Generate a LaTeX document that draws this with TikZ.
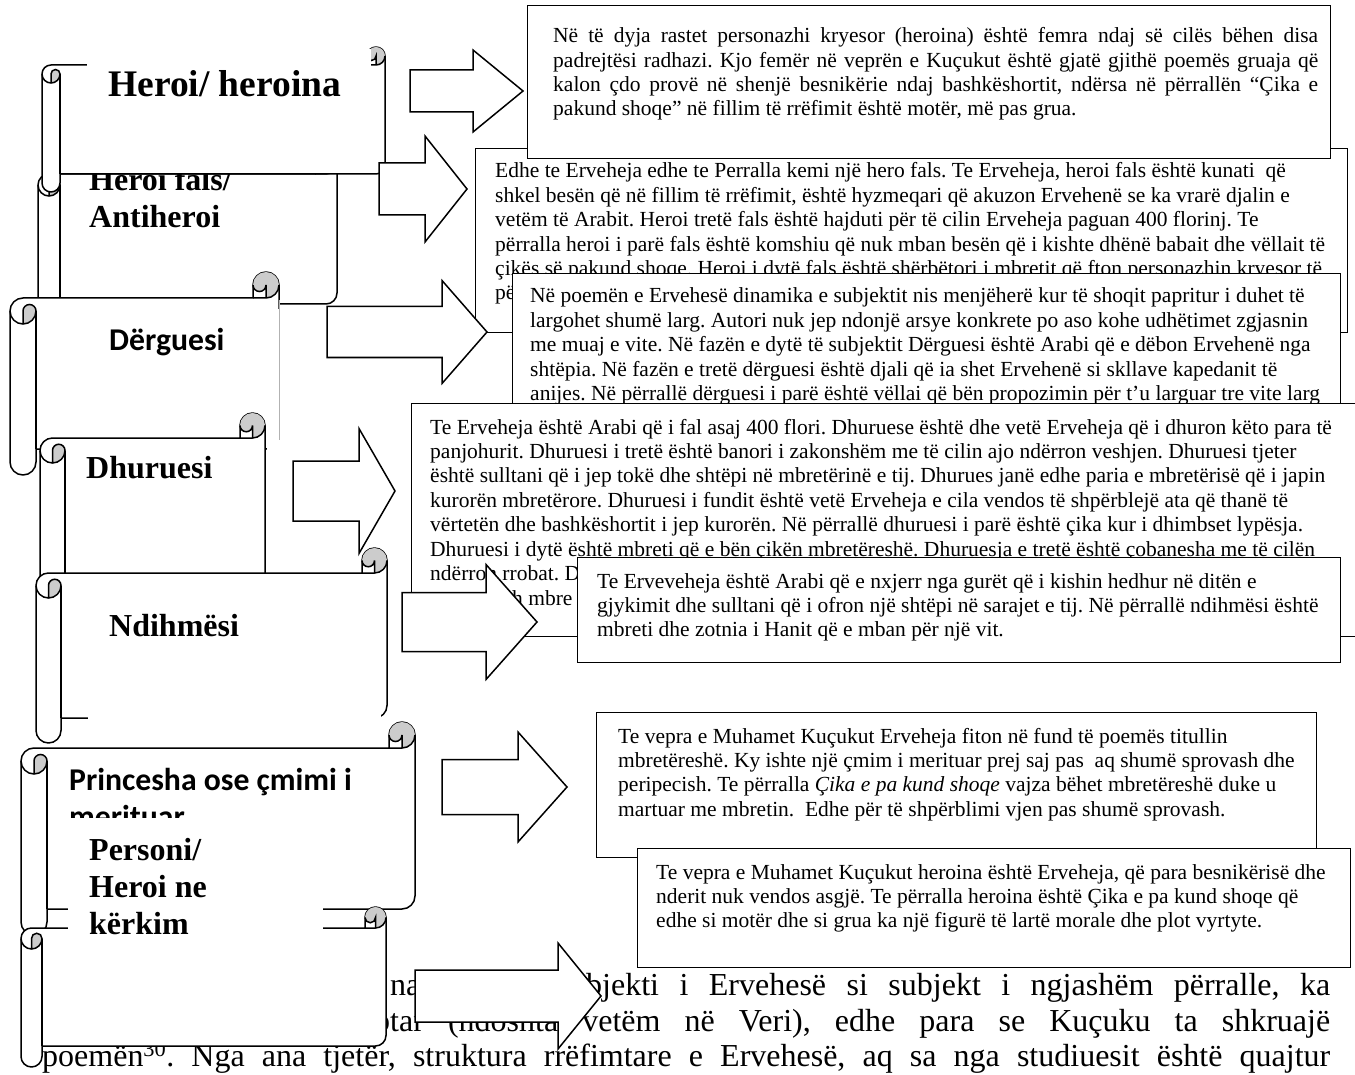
\documentclass[tikz,border=0pt]{standalone}
\usepackage{fontspec}
\setmainfont{Liberation Serif}
\newfontfamily\calfont{Carlito}
\frenchspacing
\newcommand{\bxfont}{\fontsize{21.5}{24.4}\selectfont\frenchspacing}
\newcommand{\hdfont}{\fontsize{32}{37}\selectfont\bfseries}
\newcommand{\cahd}{\calfont\fontsize{31.7}{37}\selectfont\bfseries}
\newcommand{\pfont}{\fontsize{32}{37}\selectfont\frenchspacing}
\tikzset{
 scrl/.style={fill=white, draw=black, line width=1.5pt, line join=round},
 curl/.style={fill=black!20},
 scrline/.style={draw=black, line width=1.5pt},
 tbox/.style={draw=black, fill=white, line width=1.4pt, inner sep=0pt, anchor=north west},
 txt/.style={anchor=base west, inner sep=0pt},
 arr/.style={draw=black, fill=white, line width=1.5pt, line join=miter},
 wipe/.style={fill=white, draw=none}
}
\newcommand{\drawscroll}[5]{%
  \pgfmathsetmacro\sxL{#1}%
  \pgfmathsetmacro\sxR{#3}%
  \pgfmathsetmacro\sCt{#5/2}%
  \pgfmathsetmacro\sCq{#5/4}%
  \pgfmathsetmacro\sYa{#2+#5}%
  \pgfmathsetmacro\sYb{#2+#5/2}%
  \pgfmathsetmacro\sYc{#2+1.5*#5}%
  \pgfmathsetmacro\sYd{#2+2*#5}%
  \pgfmathsetmacro\sYf{#4-#5}%
  \pgfmathsetmacro\sYg{#4-#5/2}%
  \pgfmathsetmacro\sYe{#4-1.5*#5}%
  \pgfmathsetmacro\sXc{#3-#5}%
  \pgfmathsetmacro\sXd{#3-#5/2}%
  \pgfmathsetmacro\sXa{#1+#5/2}%
  \pgfmathsetmacro\sXb{#1+#5}%
  \path[scrl] (\sxL,\sYc) arc[start angle=180,delta angle=90,radius=\sCt] -- (\sXc,\sYa) -- (\sXc,\sYb)
     arc[start angle=180,delta angle=180,radius=\sCt] -- (\sxR,\sYe)
     arc[start angle=0,delta angle=90,radius=\sCt] -- (\sXb,\sYf) -- (\sXb,\sYg)
     arc[start angle=0,delta angle=180,radius=\sCt] -- cycle;
  \fill[curl] (\sXa,\sYd) arc[start angle=90,delta angle=-90,radius=\sCt] arc[start angle=0,delta angle=-180,radius=\sCq] -- cycle;
  \fill[curl] (\sXd,\sYa) arc[start angle=90,delta angle=-270,radius=\sCt] arc[start angle=180,delta angle=-180,radius=\sCq] -- cycle;
  \draw[scrline] (\sXc,\sYa) -- (\sXd,\sYa) arc[start angle=90,delta angle=-90,radius=\sCt];
  \draw[scrline] (\sXd,\sYa) -- (\sXd,\sYb) arc[start angle=0,delta angle=180,radius=\sCq];
  \draw[scrline] (\sXa,\sYd) -- (\sXa,\sYc) arc[start angle=180,delta angle=180,radius=\sCq] arc[start angle=0,delta angle=180,radius=\sCt];
  \draw[scrline] (\sXb,\sYc) -- (\sXb,\sYf);
}
% x0, head base x, tip x, tip y, shaft half, head half
\newcommand{\blockarrow}[6]{%
  \draw[arr] (#1,{#4-#5}) -- (#2,{#4-#5}) -- (#2,{#4-#6}) -- (#3,#4) -- (#2,{#4+#6}) -- (#2,{#4+#5}) -- (#1,{#4+#5}) -- cycle;
}
\begin{document}
\begin{tikzpicture}[x=1pt,y=-1pt]
\fill[white] (0,0) rectangle (1355,1075);
\useasboundingbox (0,0) rectangle (1355,1075);

% ---------- box 2
\node[tbox, minimum width=872pt, minimum height=184pt] (b2) at (475,148) {};
\node[txt] (t2) at (495,178) {\parbox[t]{1000pt}{\bxfont
Edhe te Erveheja edhe te Perralla kemi një hero fals. Te Erveheja, heroi fals është kunati\ \ që\\
shkel besën që në fillim të rrëfimit, është hyzmeqari që akuzon Ervehenë se ka vrarë djalin e\\
vetëm të Arabit. Heroi tretë fals është hajduti për të cilin Erveheja paguan 400 florinj. Te\\
përralla heroi i parë fals është komshiu që nuk mban besën që i kishte dhënë babait dhe vëllait të\\
çikës së pakund shoqe. Heroi i dytë fals është shërbëtori i mbretit që fton personazhin kryesor të\\
pë}};
% ---------- box 1
\node[tbox, minimum width=803pt, minimum height=153pt] (b1) at (527,5) {};
\node[txt] (t1) at (553,42.8) {\parbox[t]{1000pt}{\bxfont
\makebox[765pt][s]{Në të dyja rastet personazhi kryesor (heroina) është femra ndaj së cilës bëhen disa}\\
\makebox[765pt][s]{padrejtësi radhazi. Kjo femër në veprën e Kuçukut është gjatë gjithë poemës gruaja që}\\
\makebox[765pt][s]{kalon çdo provë në shenjë besnikërie ndaj bashkëshortit, ndërsa në përrallën “Çika e}\\
pakund shoqe” në fillim të rrëfimit është motër, më pas grua.}};
\blockarrow{410}{473}{523}{91}{21}{41}

% ---------- scroll B (Heroi fals)
\drawscroll{38}{152}{337}{326}{22}
\node[txt] (hB) at (89,191) {\parbox[t]{300pt}{\hdfont Heroi fals/\\Antiheroi}};
% ---------- scroll A (Heroi/ heroina)
\drawscroll{42}{47}{385}{192}{18}
\fill[wipe] (87,49) rectangle (371,100);
\node[txt] (hA) at (108,97) {\fontsize{37.5}{42}\selectfont\bfseries Heroi/ heroina};
\blockarrow{379}{425}{467}{189}{26}{53}

% ---------- box 3
\node[tbox, minimum width=828pt, minimum height=150pt] (b3) at (512,273) {};
\node[txt] (t3) at (530,303) {\parbox[t]{1000pt}{\bxfont
Në poemën e Ervehesë dinamika e subjektit nis menjëherë kur të shoqit papritur i duhet të\\
largohet shumë larg. Autori nuk jep ndonjë arsye konkrete po aso kohe udhëtimet zgjasnin\\
me muaj e vite. Në fazën e dytë të subjektit Dërguesi është Arabi që e dëbon Ervehenë nga\\
shtëpia. Në fazën e tretë dërguesi është djali që ia shet Ervehenë si skllave kapedanit të\\
anijes. Në përrallë dërguesi i parë është vëllai që bën propozimin për t’u larguar tre vite larg}};
\blockarrow{327}{442}{487}{332}{25.5}{51.5}

% ---------- box 4
\node[tbox, minimum width=955pt, minimum height=233pt] (b4) at (411,403) {};
\node[txt] (t4) at (430,434) {\parbox[t]{1000pt}{\bxfont
Te Erveheja është Arabi që i fal asaj 400 flori. Dhuruese është dhe vetë Erveheja që i dhuron këto para të\\
panjohurit. Dhuruesi i tretë është banori i zakonshëm me të cilin ajo ndërron veshjen. Dhuruesi tjeter\\
është sulltani që i jep tokë dhe shtëpi në mbretërinë e tij. Dhurues janë edhe paria e mbretërisë që i japin\\
kurorën mbretërore. Dhuruesi i fundit është vetë Erveheja e cila vendos të shpërblejë ata që thanë të\\
vërtetën dhe bashkëshortit i jep kurorën. Në përrallë dhuruesi i parë është çika kur i dhimbset lypësja.\\
Dhuruesi i dytë është mbreti që e bën çikën mbretëreshë. Dhuruesja e tretë është çobanesha me të cilën\\
ndërron rrobat. D}};
\node[txt] (t4b) at (512,605) {\bxfont h mbre};
% ---------- box 5
\node[tbox, minimum width=763pt, minimum height=105pt] (b5) at (577,557) {};
\node[txt] (t5) at (597,588) {\parbox[t]{1000pt}{\bxfont
Te Erveveheja është Arabi që e nxjerr nga gurët që i kishin hedhur në ditën e\\
gjykimit dhe sulltani që i ofron një shtëpi në sarajet e tij. Në përrallë ndihmësi është\\
mbreti dhe zotnia i Hanit që e mban për një vit.}};
\blockarrow{402}{486}{537}{622}{29.5}{57.5}

% ---------- scroll C (Dërguesi)
\drawscroll{10}{272}{279}{475}{26}
\fill[wipe] (266.5,309) rectangle (283,453);
\draw[black!30, line width=0.8pt] (279,300) -- (279,440);
\node[txt] (hC) at (109,350) {\cahd Dërguesi};
% ---------- scroll D (Dhuruesi)
\drawscroll{40}{413}{265}{640}{25}
\node[txt] (hD) at (86,478) {\hdfont Dhuruesi};
\blockarrow{293}{359}{395}{491}{30}{62.5}
% ---------- scroll E (Ndihmësi)
\drawscroll{36}{548}{387}{743}{25}
\fill[wipe] (88,713) rectangle (381,731);
\node[txt] (hE) at (109,636) {\hdfont Ndihmësi};

% ---------- box 6
\node[tbox, minimum width=720pt, minimum height=145pt] (b6) at (596,712) {};
\node[txt] (t6) at (618,743) {\parbox[t]{1000pt}{\bxfont
Te vepra e Muhamet Kuçukut Erveheja fiton në fund të poemës titullin\\
mbretëreshë. Ky ishte një çmim i merituar prej saj pas\ \ aq shumë sprovash dhe\\
peripecish. Te përralla \textit{Çika e pa kund shoqe} vajza bëhet mbretëreshë duke u\\
martuar me mbretin.\ \ Edhe për të shpërblimi vjen pas shumë sprovash.}};
% ---------- box 7
\node[tbox, minimum width=713pt, minimum height=119pt] (b7) at (637,848) {};
\node[txt] (t7) at (656,879) {\parbox[t]{1000pt}{\bxfont
Te vepra e Muhamet Kuçukut heroina është Erveheja, që para besnikërisë dhe\\
nderit nuk vendos asgjë. Te përralla heroina është Çika e pa kund shoqe që\\
edhe si motër dhe si grua ka një figurë të lartë morale dhe plot vyrtyte.}};
\blockarrow{442}{518}{567}{787}{27.5}{55}

% ---------- scroll F (Princesha)
\drawscroll{21}{722}{415}{935}{26}
\node[txt] (hF) at (69,790) {\parbox[t]{400pt}{\cahd Princesha ose çmimi i\\merituar}};

% ---------- bottom paragraph
\node[txt] (p1a) at (390,995) {\pfont na};
\node[txt] (p1b) at (586,995) {\pfont\makebox[744pt][s]{bjekti i Ervehesë si subjekt i ngjashëm përralle, ka}};
\node[txt] (p2) at (374,1031) {\pfont\makebox[956pt][s]{ptar (ndoshta vetëm në Veri), edhe para se Kuçuku ta shkruajë}};
\node[txt] (p3) at (42,1066) {\pfont\makebox[1288pt][s]{poemën\textsuperscript{30}. Nga ana tjetër, struktura rrëfimtare e Ervehesë, aq sa nga studiuesit është quajtur}};

% ---------- scroll G (Personi)
\drawscroll{21}{907}{386}{1067}{21}
\fill[wipe] (68,818) rectangle (323,965);
\node[txt] (hG) at (89,860) {\parbox[t]{300pt}{\hdfont Personi/\\Heroi ne\\kërkim}};
\blockarrow{415}{558}{601}{996}{26}{53}
\end{tikzpicture}
\end{document}
